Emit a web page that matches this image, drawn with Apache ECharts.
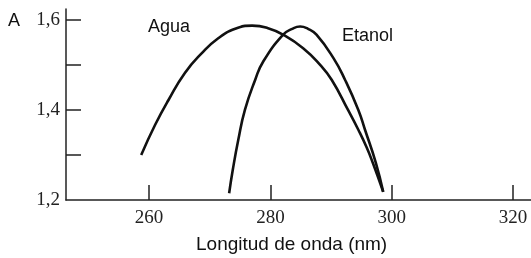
<!DOCTYPE html>
<html>
<head>
<meta charset="utf-8">
<script src="https://cdn.jsdelivr.net/npm/echarts@6/dist/echarts.min.js"></script>
<style>
  html, body { margin: 0; padding: 0; background: #fff; }
  #chart { width: 531px; height: 258px; }
</style>
</head>
<body>
<div id="chart"></div>
<script>
// datos
const aguaX = [258.7, 261.0, 263.2, 265.9, 268.7, 271.4, 274.2, 277.0, 279.5, 282.1, 285.4, 288.2, 290.1, 292.8, 294.5, 295.9, 296.9, 298.6];
const aguaY = [1.300, 1.367, 1.422, 1.482, 1.526, 1.559, 1.580, 1.587, 1.582, 1.567, 1.537, 1.500, 1.467, 1.400, 1.356, 1.316, 1.282, 1.218];
const etanolX = [273.2, 273.8, 274.7, 275.8, 277.5, 278.8, 282.1, 283.6, 284.9, 286.2, 287.6, 290.4, 292.3, 294.5, 295.6, 297.4, 298.6];
const etanolY = [1.215, 1.267, 1.333, 1.400, 1.467, 1.507, 1.567, 1.580, 1.585, 1.580, 1.567, 1.515, 1.467, 1.400, 1.356, 1.282, 1.218];
const xTicks = [260, 280, 300, 320];
const yTicks = [1.3, 1.4, 1.5, 1.6];
const yLabels = [1.2, 1.4, 1.6];

const chart = echarts.init(document.getElementById("chart"));

const serif = "Liberation Serif";
const sans = "Liberation Sans";

const toPairs = (xs, ys) => xs.map((x, i) => [x, ys[i]]);

chart.setOption({
  animation: false,
  grid: { left: 66, right: 0, top: 9, bottom: 58 },
  xAxis: {
    type: "value",
    min: 246.3,
    max: 322.97,
    axisLine: { lineStyle: { color: "#222", width: 1.5 } },
    axisTick: {
      inside: true,
      length: 15,
      customValues: xTicks,
      lineStyle: { color: "#222", width: 1.5 },
    },
    axisLabel: {
      customValues: xTicks,
      margin: 9,
      color: "#222",
      fontFamily: serif,
      fontSize: 19,
    },
    splitLine: { show: false },
  },
  yAxis: {
    type: "value",
    min: 1.2,
    max: 1.624,
    axisLine: { show: true, lineStyle: { color: "#222", width: 1.5 } },
    axisTick: {
      show: true,
      inside: true,
      length: 15,
      customValues: yTicks,
      lineStyle: { color: "#222", width: 1.5 },
    },
    axisLabel: {
      customValues: yLabels,
      margin: 6,
      color: "#222",
      fontFamily: serif,
      fontSize: 19,
      formatter: (v) => v.toFixed(1).replace(".", ","),
    },
    splitLine: { show: false },
  },
  graphic: [
    { type: "text", left: 8, top: 12, style: { text: "A", font: "18px " + sans, fill: "#111" } },
    { type: "text", left: 148, top: 18, style: { text: "Agua", font: "18px " + sans, fill: "#111" } },
    { type: "text", left: 342, top: 27, style: { text: "Etanol", font: "18px " + sans, fill: "#111" } },
    { type: "text", left: 196, top: 235, style: { text: "Longitud de onda (nm)", font: "19px " + sans, fill: "#111" } },
  ],
  series: [
    {
      name: "Agua",
      type: "line",
      smooth: 0.5,
      showSymbol: false,
      data: toPairs(aguaX, aguaY),
      lineStyle: { color: "#111", width: 2.6 },
    },
    {
      name: "Etanol",
      type: "line",
      smooth: 0.5,
      showSymbol: false,
      data: toPairs(etanolX, etanolY),
      lineStyle: { color: "#111", width: 2.6 },
    },
  ],
});
</script>
</body>
</html>
